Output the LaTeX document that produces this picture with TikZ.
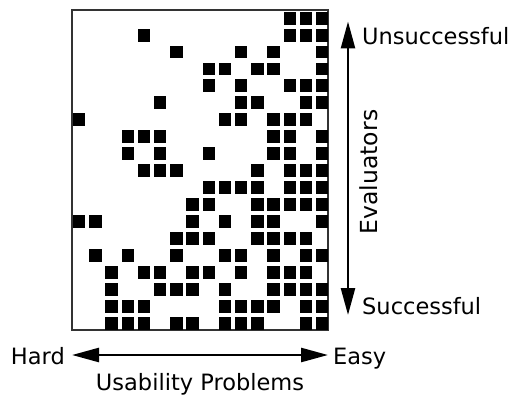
\documentclass[tikz,border=0pt]{standalone}
\usepackage{fontspec}
\setmainfont{DejaVu Sans}
\usetikzlibrary{arrows.meta}

\begin{document}
\begin{tikzpicture}[x=1pt,y=-1pt]%[scale=1]
\useasboundingbox (0,0) rectangle (514,396);
\tikzstyle{cell}=[fill=black]
\tikzstyle{lbl}=[inner sep=0pt,font=\fontsize{22.5}{26}\selectfont]
\tikzstyle{axis}=[line width=2.5pt,{Triangle[length=27pt,width=14pt]}-{Triangle[length=27pt,width=14pt]}]

\draw[line width=1.6pt,black!80] (72,10) rectangle (328,330);
\foreach \r/\cs in {0/{13,14,15},1/{4,13,14,15},2/{6,10,12,15},3/{8,9,11,12,15},
  4/{8,10,13,14,15},5/{5,10,11,14,15},6/{0,9,10,12,13,14},7/{3,4,5,12,13,15},
  8/{3,5,8,12,13,15},9/{4,5,6,11,13,14,15},10/{8,9,10,11,13,14,15},
  11/{7,8,11,12,13,14,15},12/{0,1,7,9,11,12,15},13/{6,7,8,11,12,13,14},
  14/{1,3,6,9,10,12,14,15},15/{2,4,5,7,8,10,12,13,14},16/{2,5,6,7,9,12,13,14,15},
  17/{2,3,4,9,10,11,12,14,15},18/{2,3,4,6,7,9,10,11,14,15}}
  \foreach \c in \cs
    \fill[cell] (73+16.2*\c,11.7+16.95*\r) rectangle ++(12.4,12.9);

\coordinate (hardend) at (72,355);
\coordinate (easyend) at (328,355);
\draw[axis] (hardend) -- (easyend);
\coordinate (evtop) at (348,21.5);
\coordinate (evbot) at (348,315);
\draw[axis] (evtop) -- (evbot);

\node[lbl,anchor=base east] (hard) at (65,364) {Hard};
\node[lbl,anchor=base west] (easy) at (333,364) {Easy};
\node[lbl,anchor=base] (probs) at (200,390) {Usability Problems};
\node[lbl,anchor=base west] (unsucc) at (362,45) {Unsuccessful};
\node[lbl,anchor=base west] (succ) at (362,314) {Successful};
\node[lbl,anchor=base,rotate=90,font=\fontsize{23.5}{26}\selectfont] (evals) at (377,172) {Evaluators};
\end{tikzpicture}
\end{document}
